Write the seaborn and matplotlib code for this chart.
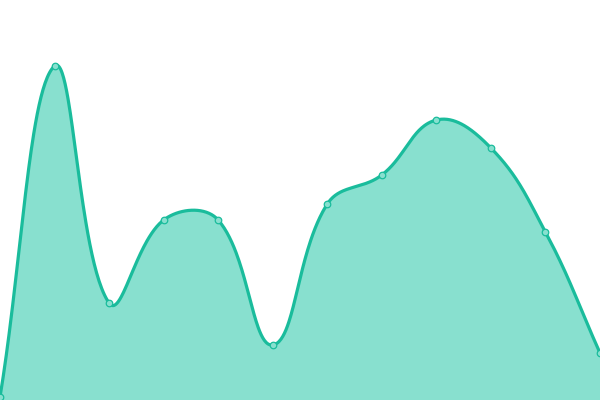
import numpy as np
import pandas as pd
import matplotlib
matplotlib.use("Agg")
import matplotlib.pyplot as plt
import seaborn as sns

# data (one point per step, axis 0..400)
steps = list(range(12))
values = [3, 334, 97, 180, 180, 55, 196, 225, 280, 252, 168, 47]

LINE = "#1abc9c"
FILL = "#88e0cf"
TENSION = 0.4


def spline_controls(px, py, t):
    """
    control points like a cardinal bezier spline (chart.js style)
    works in pixel space
    """
    n = len(px)
    c1 = []
    c2 = []
    for i in range(n):
        prev = max(i - 1, 0)
        nxt = min(i + 1, n - 1)
        d01 = np.hypot(px[i] - px[prev], py[i] - py[prev])
        d12 = np.hypot(px[nxt] - px[i], py[nxt] - py[i])
        tot = d01 + d12
        s01 = d01 / tot if tot else 0
        s12 = d12 / tot if tot else 0
        fa = t * s01
        fb = t * s12
        dx = px[nxt] - px[prev]
        dy = py[nxt] - py[prev]
        c1.append((px[i] - fa * dx, py[i] - fa * dy))
        c2.append((px[i] + fb * dx, py[i] + fb * dy))
    return c1, c2


def smooth_curve(xs, ys, t, n=60):
    sx = 600 / (len(xs) - 1)
    px = [x * sx for x in xs]
    py = list(ys)
    c1, c2 = spline_controls(px, py, t)
    out_x = []
    out_y = []
    u = np.linspace(0, 1, n)
    for i in range(len(px) - 1):
        p0 = np.array([px[i], py[i]])
        p1 = np.array(c2[i])
        p2 = np.array(c1[i + 1])
        p3 = np.array([px[i + 1], py[i + 1]])
        seg = ((1 - u) ** 3)[:, None] * p0 + (3 * (1 - u) ** 2 * u)[:, None] * p1 \
            + (3 * (1 - u) * u ** 2)[:, None] * p2 + (u ** 3)[:, None] * p3
        out_x.extend(seg[:, 0] / sx)
        out_y.extend(seg[:, 1])
    return np.array(out_x), np.array(out_y)


cx, cy = smooth_curve(steps, values, TENSION)
curve = pd.DataFrame({"step": cx, "value": cy})
points = pd.DataFrame({"step": steps, "value": values})

sns.set_style("white")
fig = plt.figure(figsize=(6, 4), dpi=100)
ax = fig.add_axes([0, 0, 1, 1])

ax.fill_between(cx, cy, 0, color=FILL, linewidth=0)
sns.lineplot(data=curve, x="step", y="value", color=LINE, linewidth=2.3,
             sort=False, estimator=None, ax=ax)
sns.scatterplot(data=points, x="step", y="value", s=22, color=FILL,
                edgecolor=LINE, linewidth=0.9, ax=ax, zorder=5)

ax.set_xlim(0, 11)
ax.set_ylim(0, 400)
ax.axis("off")

fig.savefig("out.png", dpi=100)
